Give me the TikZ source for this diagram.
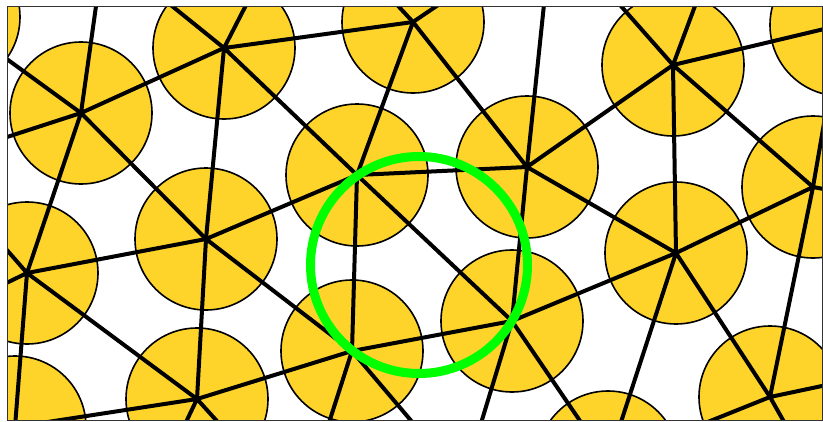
\documentclass[tikz,border=0pt]{standalone}
\usepackage{xcolor}
\usepackage{tikz}
\definecolor{discyellow}{RGB}{254,212,42}
\definecolor{ringgreen}{RGB}{0,255,0}

\begin{document}
\begin{tikzpicture}[x=1pt,y=-1pt,
  edge/.style={line width=4pt,line cap=round},
  site/.style={fill=discyellow,draw=black,line width=1.6pt}]
\useasboundingbox (0,0) rectangle (823,421);

% sites inside the frame
\coordinate (TL) at (-51,17);
\coordinate (A) at (81,113);
\coordinate (B) at (224,48);
\coordinate (C) at (413,22);
\coordinate (D) at (673,65);
\coordinate (E) at (841,25);
\coordinate (F) at (27,273);
\coordinate (G) at (206,239);
\coordinate (H) at (357,175);
\coordinate (I) at (527,167);
\coordinate (J) at (676,253);
\coordinate (K) at (813,187);
\coordinate (L) at (352,351);
\coordinate (M) at (512,321);
\coordinate (N) at (197,399);
\coordinate (O) at (15,427);
\coordinate (P) at (608,462);
\coordinate (Q) at (770,397);

% sites out of sight
\coordinate (W1) at (-70,162);
\coordinate (W2) at (-80,325);
\coordinate (V1) at (114,-122);
\coordinate (V2) at (42,-99);
\coordinate (U) at (300,-100);
\coordinate (V) at (552,-72);
\coordinate (Vd) at (739,-112);
\coordinate (R2) at (960,215);
\coordinate (R3) at (940,361);
\coordinate (R4) at (835,512);
\coordinate (S1) at (300,513);
\coordinate (S2) at (497,522);
\coordinate (S3) at (452,519);
\coordinate (S4) at (147,504);

% centre of the empty circle
\coordinate (cc) at (419,265);

\begin{scope}
\clip (7,6) rectangle (822,420);
\foreach \s in {TL,A,B,C,D,E,F,G,H,I,J,K,L,M,N,O,P,Q}
  \draw[site] (\s) circle[radius=71pt];

\draw[edge] (TL) -- (A);
\draw[edge] (A) -- (V1) (A) -- (W1) (A) -- (B) (A) -- (G) (A) -- (F);
\draw[edge] (B) -- (V2) (B) -- (U) (B) -- (C) (B) -- (H) (B) -- (G);
\draw[edge] (C) -- (U) (C) -- (V) (C) -- (H) (C) -- (I);
\draw[edge] (I) -- (V) (I) -- (H) (I) -- (D) (I) -- (J) (I) -- (M);
\draw[edge] (D) -- (V) (D) -- (Vd) (D) -- (E) (D) -- (K) (D) -- (J);
\draw[edge] (E) -- (K);
\draw[edge] (K) -- (J) (K) -- (Q) (K) -- (R2);
\draw[edge] (F) -- (W1) (F) -- (W2) (F) -- (G) (F) -- (N) (F) -- (O);
\draw[edge] (G) -- (H) (G) -- (L) (G) -- (N);
\draw[edge] (H) -- (L) (H) -- (M);
\draw[edge] (L) -- (M) (L) -- (N) (L) -- (S1) (L) -- (S2);
\draw[edge] (N) -- (O) (N) -- (S1) (N) -- (S4);
\draw[edge] (M) -- (J) (M) -- (P) (M) -- (S3);
\draw[edge] (J) -- (Q) (J) -- (P);
\draw[edge] (Q) -- (P) (Q) -- (R3) (Q) -- (R4);

% empty circumcircle of H, L, M
\draw[ringgreen,line width=9pt] (cc) circle[radius=108.5pt];
\end{scope}
\draw[black!80,line width=1pt] (7,6) rectangle (822,420);
\end{tikzpicture}
\end{document}
